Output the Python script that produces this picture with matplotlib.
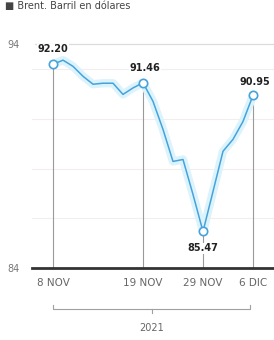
import matplotlib
matplotlib.use("Agg")
import matplotlib.pyplot as plt
from matplotlib.transforms import blended_transform_factory

# datos (sesiones bursátiles entre 8 NOV y 6 DIC 2021)
sesiones = list(range(21))
precios = [92.20, 92.37, 92.12, 91.72, 91.40, 91.44, 91.44, 90.99, 91.25, 91.46,
           90.71, 89.58, 88.29, 88.37, 86.96, 85.47, 87.08, 88.70, 89.18, 89.90, 90.95]
marcados = [0, 9, 15, 20]
etiquetas_x = ["8 NOV", "19 NOV", "29 NOV", "6 DIC"]
ticks_y = [84, 93]
etiquetas_y = ["84", "94"]
rejilla_y = [86, 88, 90, 92]
titulo = "■ Brent. Barril en dólares"
anio = "2021"

AZUL = "#45a3dc"
HALO = "#dcf3fc"
GRIS = "#9a9a9a"

fig = plt.figure(figsize=(2.74, 3.40), dpi=100)
ax = fig.add_axes([32 / 274, 72 / 340, 242 / 274, 226 / 340])
ax.set_xlim(-2.1, 22.1)
ax.set_ylim(84, 93.1)

for s in ax.spines.values():
    s.set_visible(False)

# rejilla suave
for g in rejilla_y:
    ax.axhline(g, color="#f3eded", lw=0.8, zorder=0)
ax.axhline(93, color="#dcdcdc", lw=0.9, xmin=0.012, zorder=0)
ax.axhline(84, color="#333333", lw=2.0, zorder=5, clip_on=False)

# líneas verticales bajo los puntos marcados
for i in marcados:
    ax.vlines(sesiones[i], 84, precios[i], color=GRIS, lw=0.8, zorder=1)

# serie con halo
ax.plot(sesiones, precios, color=HALO, lw=6, solid_capstyle="round", zorder=2)
ax.plot(sesiones, precios, color=AZUL, lw=1.1, zorder=3)
ax.plot([sesiones[i] for i in marcados], [precios[i] for i in marcados],
        "o", ms=6, mfc="white", mec=AZUL, mew=1.2, zorder=4)

# valores
desplaz = {0: (0, 15), 9: (2, 15), 15: (0, -17), 20: (2, 13)}
for i in marcados:
    dx, dy = desplaz[i]
    ax.annotate(f"{precios[i]:.2f}", (sesiones[i], precios[i]),
                xytext=(dx * 0.72, dy * 0.72), textcoords="offset points",
                ha="center", va="center", fontsize=7, fontweight="bold",
                color="#222222", zorder=6,
                bbox=dict(boxstyle="square,pad=0.05", fc="white", ec="none"))

ax.set_xticks([sesiones[i] for i in marcados])
ax.set_xticklabels(etiquetas_x, fontsize=7.5, color="#666666")
ax.set_yticks(ticks_y)
ax.set_yticklabels(etiquetas_y, fontsize=7, color="#777777")
ax.tick_params(length=0)
ax.tick_params(axis="x", pad=7)
ax.tick_params(axis="y", pad=9)

# corchete del año
tr = blended_transform_factory(ax.transData, fig.transFigure)
yb = 31 / 340
d = 4 / 340
x0, x1 = sesiones[0], 19.7
xm = (x0 + x1) / 2
ax.plot([x0, x0, x1, x1], [yb + d, yb, yb, yb + d], color="#a0a0a0",
        lw=0.8, transform=tr, clip_on=False)
ax.plot([xm, xm], [yb, yb - d], color="#a0a0a0", lw=0.8, transform=tr, clip_on=False)
ax.text(xm, 12 / 340, anio, transform=tr, ha="center", va="center",
        fontsize=7, color="#666666")

fig.text(5 / 274, 1 - 9 / 340, titulo, ha="left", va="baseline",
         fontsize=7, color="#444444")

fig.savefig("out.png", dpi=100)
